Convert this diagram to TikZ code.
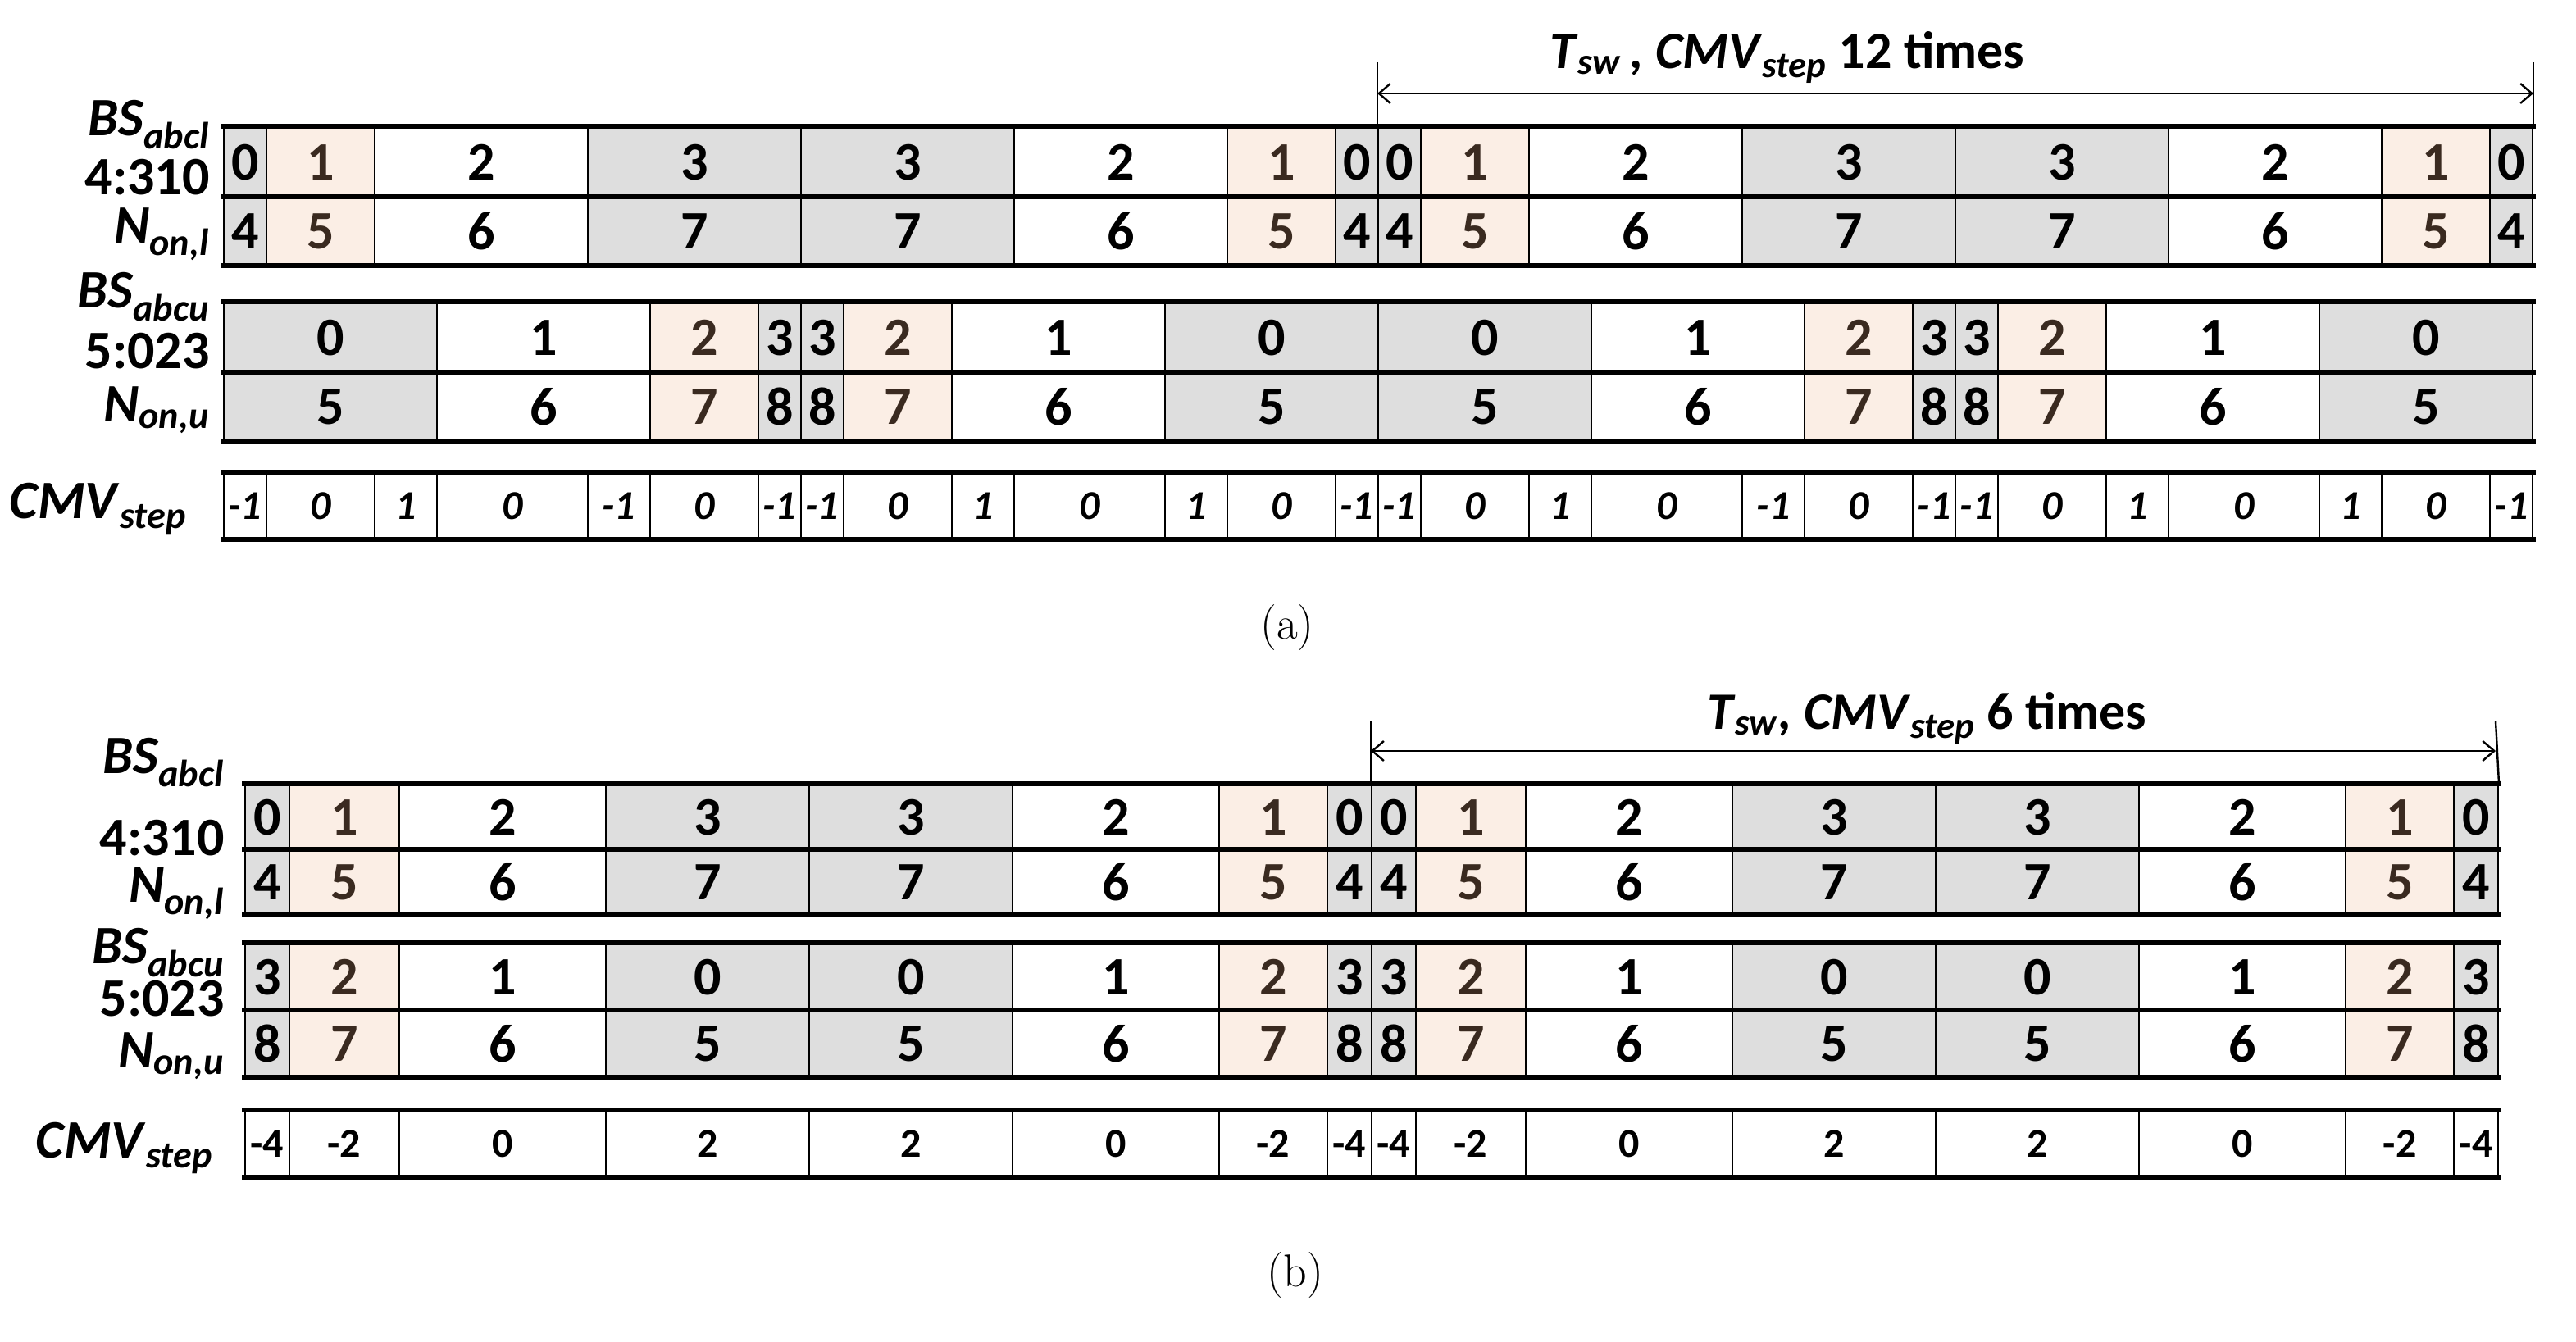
\documentclass[tikz,border=0pt]{standalone}
\usepackage{fontspec}
\newfontfamily\carl{Carlito}
\usetikzlibrary{arrows.meta}
\definecolor{gcell}{HTML}{DEDEDE}
\definecolor{pcell}{HTML}{FBEEE5}
\definecolor{ptext}{HTML}{3A2A20}
\tikzset{
  cell/.style={draw=black,line width=1pt,inner sep=0pt,anchor=north west,font=\carl\fontsize{33}{33}\selectfont\bfseries},
  g/.style={fill=gcell}, s/.style={fill=pcell,text=ptext}, w/.style={fill=white},
  cmvi/.style={font=\carl\fontsize{25}{25}\selectfont\bfseries\itshape},
  cmvu/.style={font=\carl\fontsize{25}{25}\selectfont\bfseries},
  box/.style={line width=2.6pt,line cap=rect},
  lab/.style={anchor=east,inner sep=0pt,font=\carl\fontsize{33}{33}\selectfont\bfseries},
  dim/.style={line width=1.2pt,{Straight Barb[length=7pt,width=12pt]}-{Straight Barb[length=7pt,width=12pt]}},
}
\newcommand\crow[6]{%
  \foreach \w/\t/\f [count=\i, remember=\xn as \xc (initially #2)] in {#5} {
    \pgfmathsetmacro\xn{\xc+\w}
    \node[cell,\f,#6,minimum width=\w pt,minimum height=#4 pt] (#1\i) at (\xc,#3) {\t};
  }}
\begin{document}
\begin{tikzpicture}[x=1pt,y=-1pt]
\useasboundingbox[fill=white] (0,0) rectangle (1571,818.5);
% ---------- (a)
\crow{aLt}{136}{77}{43}{26/0/g,66/1/s,130/2/w,130/3/g,130/3/g,130/2/w,66/1/s,26/0/g,26/0/g,66/1/s,130/2/w,130/3/g,130/3/g,130/2/w,66/1/s,26/0/g}{}
\crow{aLb}{136}{120}{41}{26/4/g,66/5/s,130/6/w,130/7/g,130/7/g,130/6/w,66/5/s,26/4/g,26/4/g,66/5/s,130/6/w,130/7/g,130/7/g,130/6/w,66/5/s,26/4/g}{}
\crow{aUt}{136}{184}{43}{130/0/g,130/1/w,66/2/s,26/3/g,26/3/g,66/2/s,130/1/w,130/0/g,130/0/g,130/1/w,66/2/s,26/3/g,26/3/g,66/2/s,130/1/w,130/0/g}{}
\crow{aUb}{136}{227}{41}{130/5/g,130/6/w,66/7/s,26/8/g,26/8/g,66/7/s,130/6/w,130/5/g,130/5/g,130/6/w,66/7/s,26/8/g,26/8/g,66/7/s,130/6/w,130/5/g}{}
\crow{aC}{136}{288}{40}{26/-1/w,66/0/w,38/1/w,92/0/w,38/-1/w,66/0/w,26/-1/w,26/-1/w,66/0/w,38/1/w,92/0/w,38/1/w,66/0/w,26/-1/w,26/-1/w,66/0/w,38/1/w,92/0/w,38/-1/w,66/0/w,26/-1/w,26/-1/w,66/0/w,38/1/w,92/0/w,38/1/w,66/0/w,26/-1/w}{cmvi}
\foreach \r/\n in {aLt/16,aLb/16,aUt/16,aUb/16,aC/28}{
  \draw[box] (\r1.north west) -- (\r\n.north east);}
\draw[box] (aLb1.south west) -- (aLb16.south east);
\draw[box] (aUb1.south west) -- (aUb16.south east);
\draw[box] (aC1.south west) -- (aC28.south east);
\node[lab] (a1) at (128,76) {\textit{BS}\textsubscript{\textit{abcl}}};
\node[lab] (a2) at (128,108) {4:310};
\node[lab] (a3) at (128,143) {\textit{N}\textsubscript{\textit{on,l}}};
\node[lab] (a4) at (128,181) {\textit{BS}\textsubscript{\textit{abcu}}};
\node[lab] (a5) at (128,214) {5:023};
\node[lab] (a6) at (128,250) {\textit{N}\textsubscript{\textit{on,u}}};
\node[lab] (a7) at (114,310) {\textit{CMV}\textsubscript{\textit{step}}};
\coordinate (aA1) at (840,57); \coordinate (aA2) at (1545,57);
\draw[line width=1.2pt] (840,38) -- (aLt9.north west);
\draw[line width=1.2pt] (1545,38) -- (aLt16.north east);
\draw[dim] (aA1) -- (aA2);
\node[font=\carl\fontsize{32}{32}\selectfont\bfseries] (aT) at (1090,35) {\textit{T}\textsubscript{\textit{sw}}\,\textit{, CMV}\textsubscript{\textit{step}} 12 times};
\node[font=\fontsize{28}{28}\selectfont] (aL) at (785,383) {(a)};
% ---------- (b)
\crow{bLt}{149}{478}{40}{27/0/g,67/1/s,126/2/w,124/3/g,124/3/g,126/2/w,66/1/s,27/0/g,27/0/g,67/1/s,126/2/w,124/3/g,124/3/g,126/2/w,66/1/s,27/0/g}{}
\crow{bLb}{149}{518}{39}{27/4/g,67/5/s,126/6/w,124/7/g,124/7/g,126/6/w,66/5/s,27/4/g,27/4/g,67/5/s,126/6/w,124/7/g,124/7/g,126/6/w,66/5/s,27/4/g}{}
\crow{bUt}{149}{575}{41}{27/3/g,67/2/s,126/1/w,124/0/g,124/0/g,126/1/w,66/2/s,27/3/g,27/3/g,67/2/s,126/1/w,124/0/g,124/0/g,126/1/w,66/2/s,27/3/g}{}
\crow{bUb}{149}{616}{40}{27/8/g,67/7/s,126/6/w,124/5/g,124/5/g,126/6/w,66/7/s,27/8/g,27/8/g,67/7/s,126/6/w,124/5/g,124/5/g,126/6/w,66/7/s,27/8/g}{}
\crow{bC}{149}{677}{40}{27/-4/w,67/-2/w,126/0/w,124/2/w,124/2/w,126/0/w,66/-2/w,27/-4/w,27/-4/w,67/-2/w,126/0/w,124/2/w,124/2/w,126/0/w,66/-2/w,27/-4/w}{cmvu}
\foreach \r in {bLt,bLb,bUt,bUb,bC}{
  \draw[box] (\r1.north west) -- (\r16.north east);}
\draw[box] (bLb1.south west) -- (bLb16.south east);
\draw[box] (bUb1.south west) -- (bUb16.south east);
\draw[box] (bC1.south west) -- (bC16.south east);
\node[lab] (b1) at (137,465) {\textit{BS}\textsubscript{\textit{abcl}}};
\node[lab] (b2) at (137,511) {4:310};
\node[lab] (b3) at (137,545) {\textit{N}\textsubscript{\textit{on,l}}};
\node[lab] (b4) at (137,581) {\textit{BS}\textsubscript{\textit{abcu}}};
\node[lab] (b5) at (137,609) {5:023};
\node[lab] (b6) at (137,644) {\textit{N}\textsubscript{\textit{on,u}}};
\node[lab] (b7) at (130,700) {\textit{CMV}\textsubscript{\textit{step}}};
\coordinate (bA1) at (836,458); \coordinate (bA2) at (1522,458);
\draw[line width=1.2pt] (836,440) -- (bLt9.north west);
\draw[line width=1.2pt] (1522,440) -- (bLt16.north east);
\draw[dim] (bA1) -- (bA2);
\node[font=\carl\fontsize{32}{32}\selectfont\bfseries] (bT) at (1175,438) {\textit{T}\textsubscript{\textit{sw}}\textit{, CMV}\textsubscript{\textit{step}} 6 times};
\node[font=\fontsize{28}{28}\selectfont] (bL) at (790,778) {(b)};
\end{tikzpicture}
\end{document}
